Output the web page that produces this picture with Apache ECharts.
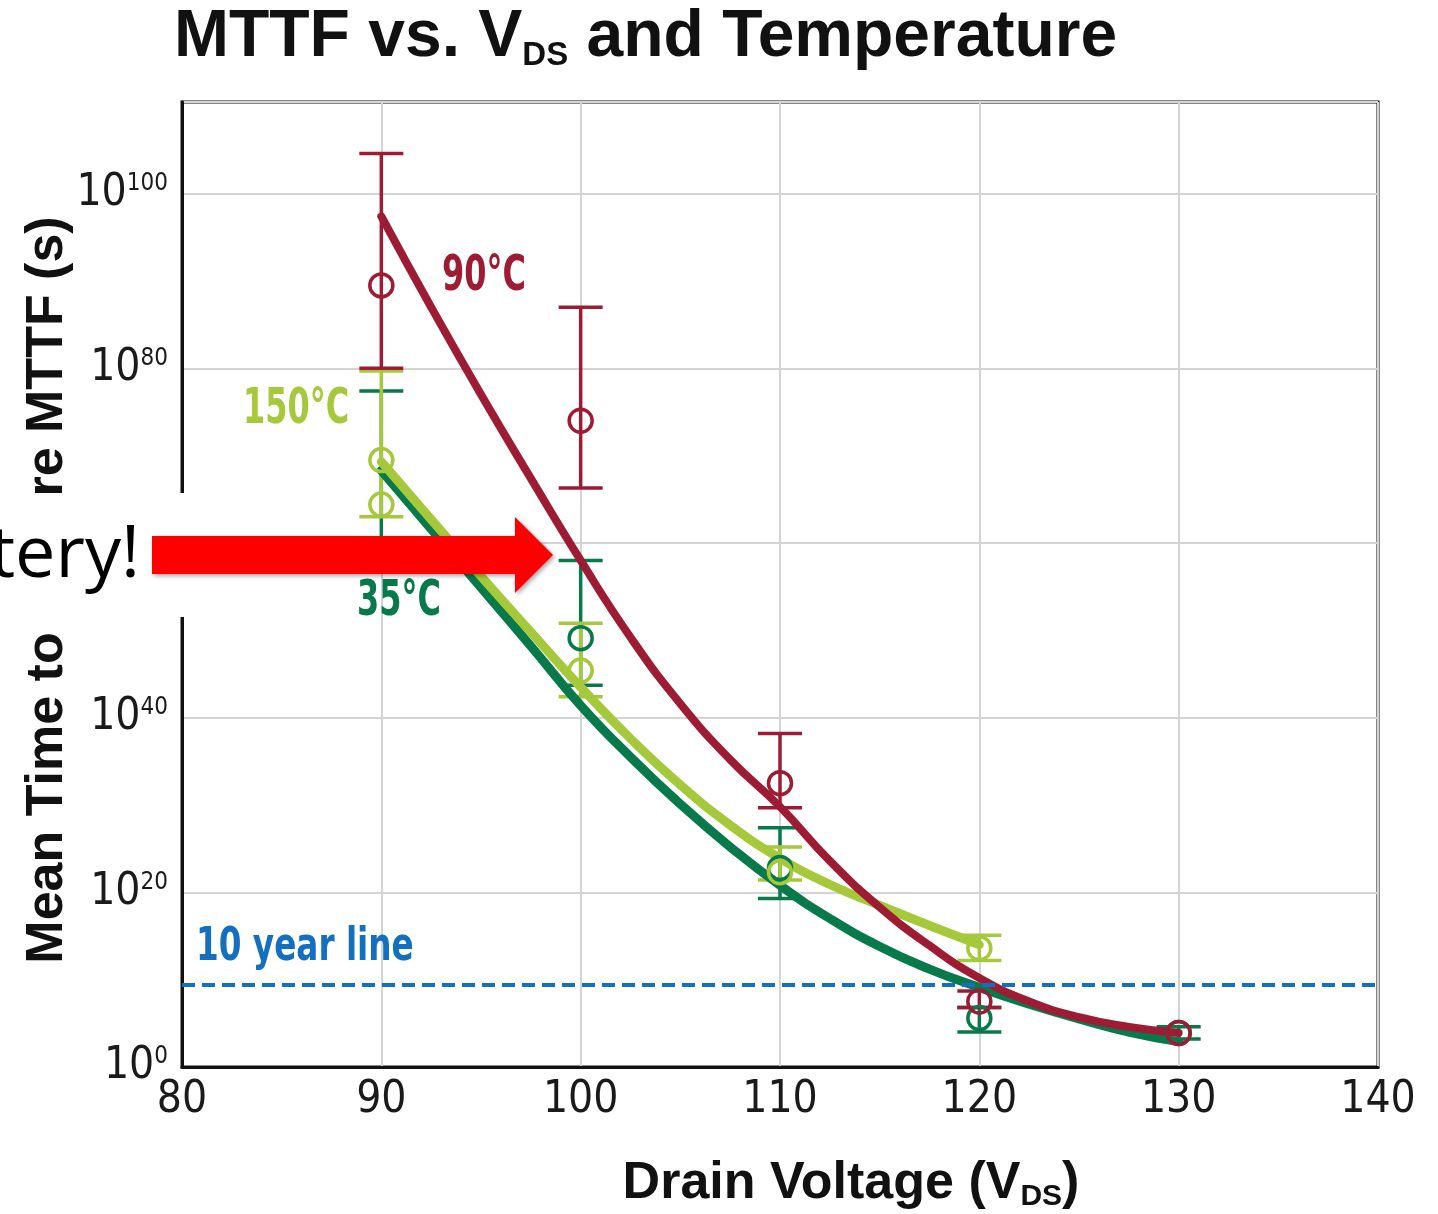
<!DOCTYPE html>
<html>
<head>
<meta charset="utf-8">
<script src="https://cdn.jsdelivr.net/npm/echarts@6/dist/echarts.min.js"></script>
<style>
html,body{margin:0;padding:0;background:#fff;}
#chart{width:1438px;height:1214px;}
</style>
</head>
<body>
<div id="chart"></div>
<script>
// ---------- DATA (y values are exponents: MTTF = 10^value seconds) ----------
const voltages = [90, 100, 110, 120, 130];
const xTicks = [80, 90, 100, 110, 120, 130, 140];
const yTickExps = [0, 20, 40, 60, 80, 100];

// 90°C measured points + error bars
const mttf90 = [89.5, 74.0, 32.5, 7.5, 3.9];
const hi90   = [104.6, 87.0, 38.2, 8.7, null];
const lo90   = [80.0, 66.3, 29.7, 6.8, null];

// 150°C measured points + error bars
const volt150 = [90, 100, 110, 120];
const mttf150 = [69.5, 45.4, 22.3, 13.6];
const hi150   = [79.7, 50.8, 25.2, 15.1];
const lo150   = [63.0, 42.4, 21.4, 12.2];

// 35°C measured points + error bars
const mttf35 = [64.4, 49.1, 22.8, 5.6, 3.9];
const hi35   = [77.4, 58.0, 27.4, 6.8, 4.6];
const lo35   = [56.9, 43.7, 19.3, 4.0, 3.2];

// fitted curves
const curveX   = [90, 92.5, 95, 97.5, 100, 102.5, 105, 107.5, 110, 112.5, 115, 117.5, 120, 122.5, 125, 127.5, 130];
const curve90  = [97.4, 87.0, 77.0, 67.4, 58.0, 49.2, 41.6, 35.2, 29.8, 23.6, 18.3, 13.9, 10.2, 7.5, 5.7, 4.6, 3.9];
const curve35  = [68.3, 61.6, 54.9, 48.2, 41.4, 35.5, 30.1, 25.2, 20.8, 17.0, 13.8, 11.2, 9.1, 7.2, 5.5, 4.0, 2.9];
const curve150X = [90, 92.5, 95, 97.5, 100, 102.5, 105, 107.5, 110, 112.5, 115, 117.5, 120];
const curve150 = [69.3, 62.7, 56.2, 49.8, 43.5, 37.6, 32.3, 27.7, 23.9, 20.9, 18.5, 16.2, 14.0];

const tenYearExp = 9.4;

// ---------- STYLE ----------
const C_RED = '#9e1b34', C_LG = '#a6c93b', C_DG = '#08794a', C_BLUE = '#1470bf';
const NARROW = "'Liberation Sans Narrow','Arial Narrow','DejaVu Sans Condensed',sans-serif";
const SANS = "'Liberation Sans',Arial,sans-serif";

const mctx = document.createElement('canvas').getContext('2d');
function tw(text, font){ mctx.font = font; return mctx.measureText(text).width; }

function pts(xs, ys){ return xs.map((x,i)=>[x, ys[i]]); }
function errs(xs, lo, hi){ const r=[]; xs.forEach((x,i)=>{ if(lo[i]!=null && hi[i]!=null) r.push([x, lo[i], hi[i]]); }); return r; }

function errSeries(data, color, z){
  return {
    type:'custom', z:z, data:data, encode:{x:0, y:[1,2]}, silent:true,
    renderItem:function(params, api){
      const x = api.value(0), lo = api.value(1), hi = api.value(2);
      const a = api.coord([x, lo]), b = api.coord([x, hi]);
      const hw = 22, st = {stroke:color, lineWidth:3.5};
      return {type:'group', children:[
        {type:'line', shape:{x1:a[0], y1:a[1], x2:b[0], y2:b[1]}, style:st},
        {type:'line', shape:{x1:b[0]-hw, y1:b[1], x2:b[0]+hw, y2:b[1]}, style:st},
        {type:'line', shape:{x1:a[0]-hw, y1:a[1], x2:a[0]+hw, y2:a[1]}, style:st}
      ]};
    }
  };
}
function circleSeries(data, color, z){
  return {type:'scatter', z:z, data:data, symbol:'circle', symbolSize:23, silent:true,
    itemStyle:{color:'rgba(255,255,255,0)', borderColor:color, borderWidth:3.5, opacity:1}};
}
function curveSeries(xs, ys, color, w, z){
  return {type:'line', z:z, data:pts(xs, ys), smooth:0.5, symbol:'none', silent:true,
    lineStyle:{color:color, width:w, cap:'round', join:'round'}};
}

// circle at 90 V for 35°C appears in the light colour in the picture
const c35 = pts(voltages, mttf35).map((p,i)=> i===0 ? {value:p, itemStyle:{borderColor:C_LG}} : p);

// ---------- GRAPHICS (title, axis names, annotations) ----------
const titleFont = 'bold 66px ' + SANS, titleSub = 'bold 33px ' + SANS;
const t1 = 'MTTF vs. V', t2 = 'DS', t3 = ' and Temperature';
const tx0 = 174, w1 = tw(t1, titleFont), w2 = tw(t2, titleSub);

const xnFont = 'bold 52px ' + SANS, xnSub = 'bold 30px ' + SANS;
const n1 = 'Drain Voltage (V', n2 = 'DS', n3 = ')';
const nw1 = tw(n1, xnFont), nw2 = tw(n2, xnSub), nw3 = tw(n3, xnFont);
const nx0 = 851 - (nw1 + nw2 + nw3)/2;

const LBL = 'bold 50px ' + NARROW;
const graphics = [
  {type:'text', x:tx0, y:38, z:100, style:{text:t1, font:titleFont, fill:'#111', verticalAlign:'middle'}},
  {type:'text', x:tx0+w1, y:56, z:100, style:{text:t2, font:titleSub, fill:'#111', verticalAlign:'middle'}},
  {type:'text', x:tx0+w1+w2, y:38, z:100, style:{text:t3, font:titleFont, fill:'#111', verticalAlign:'middle'}},

  {type:'text', x:nx0, y:1184, z:100, style:{text:n1, font:xnFont, fill:'#111', verticalAlign:'middle'}},
  {type:'text', x:nx0+nw1, y:1197, z:100, style:{text:n2, font:xnSub, fill:'#111', verticalAlign:'middle'}},
  {type:'text', x:nx0+nw1+nw2, y:1184, z:100, style:{text:n3, font:xnFont, fill:'#111', verticalAlign:'middle'}},

  {type:'text', x:48, y:590, rotation:Math.PI/2, z:100,
    style:{text:'Mean Time to Failure MTTF (s)', font:'bold 52px ' + SANS, fill:'#111', align:'center', verticalAlign:'middle'}},

  {type:'text', x:442, y:277, scaleX:0.71, z:100, style:{text:'90°C', font:LBL, fill:C_RED, verticalAlign:'middle'}},
  {type:'text', x:243, y:410, scaleX:0.71, z:100, style:{text:'150°C', font:LBL, fill:C_LG, verticalAlign:'middle'}},
  {type:'text', x:357, y:602, scaleX:0.71, z:100, style:{text:'35°C', font:LBL, fill:C_DG, verticalAlign:'middle'}},
  {type:'text', x:196, y:948, scaleX:0.79, z:100, style:{text:'10 year line', font:'bold 46px ' + NARROW, fill:C_BLUE, verticalAlign:'middle'}},

  {type:'rect', z:110, shape:{x:0, y:493, width:190, height:124}, style:{fill:'#ffffff'}},
  {type:'text', x:140, y:556, z:111, style:{text:'tery!', font:'72px "Open Sans", sans-serif', fill:'#000', align:'right', verticalAlign:'middle'}},
  {type:'polygon', z:112, shape:{points:[[152,536],[515,536],[515,517],[553,555],[515,593],[515,574],[152,574]]},
    style:{fill:'#ff0000', shadowBlur:4, shadowColor:'rgba(0,0,0,0.35)', shadowOffsetX:2, shadowOffsetY:2}}
];

const chart = echarts.init(document.getElementById('chart'), null, {renderer:'canvas'});
chart.setOption({
  animation:false,
  backgroundColor:'#ffffff',
  grid:{left:182, top:102, right:60, bottom:147, containLabel:false, show:true, borderColor:'#111', borderWidth:3, backgroundColor:'transparent'},
  xAxis:{
    type:'value', min:xTicks[0], max:xTicks[xTicks.length-1], interval:10,
    axisLine:{show:true, lineStyle:{color:'#111', width:3}},
    axisTick:{show:false},
    axisLabel:{show:true, color:'#1a1a1a', fontFamily:NARROW, fontSize:44, margin:12, showMaxLabel:true, hideOverlap:false,
      formatter:v=> xTicks.indexOf(v) >= 0 ? String(v) : ''},
    splitLine:{show:true, lineStyle:{color:'#d4d4d4', width:2}}
  },
  yAxis:{
    type:'value', min:0, max:110.5, interval:20,
    axisLine:{show:true, lineStyle:{color:'#111', width:3}},
    axisTick:{show:false},
    axisLabel:{show:true, margin:14, hideOverlap:false,
      formatter:v=> yTickExps.indexOf(v) >= 0 ? '{b|10}{s|' + v + '}' : '',
      rich:{
        b:{fontFamily:NARROW, fontSize:44, lineHeight:44, color:'#1a1a1a'},
        s:{fontFamily:NARROW, fontSize:24, lineHeight:30, verticalAlign:'top', color:'#1a1a1a'}
      }},
    splitLine:{show:true, lineStyle:{color:'#d4d4d4', width:2}}
  },
  series:[
    errSeries(errs(voltages, lo35, hi35), C_DG, 2),
    errSeries(errs(volt150, lo150, hi150), C_LG, 2),
    errSeries(errs(voltages, lo90, hi90), C_RED, 2),
    Object.assign(curveSeries(curveX, curve35, C_DG, 9, 3), {
      markLine:{silent:true, symbol:'none', label:{show:false},
        lineStyle:{color:C_BLUE, width:4, type:[13,7]},
        data:[{yAxis:tenYearExp}]}
    }),
    curveSeries(curve150X, curve150, C_LG, 9, 3),
    curveSeries(curveX, curve90, C_RED, 8, 3),
    circleSeries(c35, C_DG, 4),
    circleSeries(pts(volt150, mttf150), C_LG, 4),
    circleSeries(pts(voltages, mttf90), C_RED, 5)
  ],
  graphic:graphics
});
</script>
</body>
</html>
